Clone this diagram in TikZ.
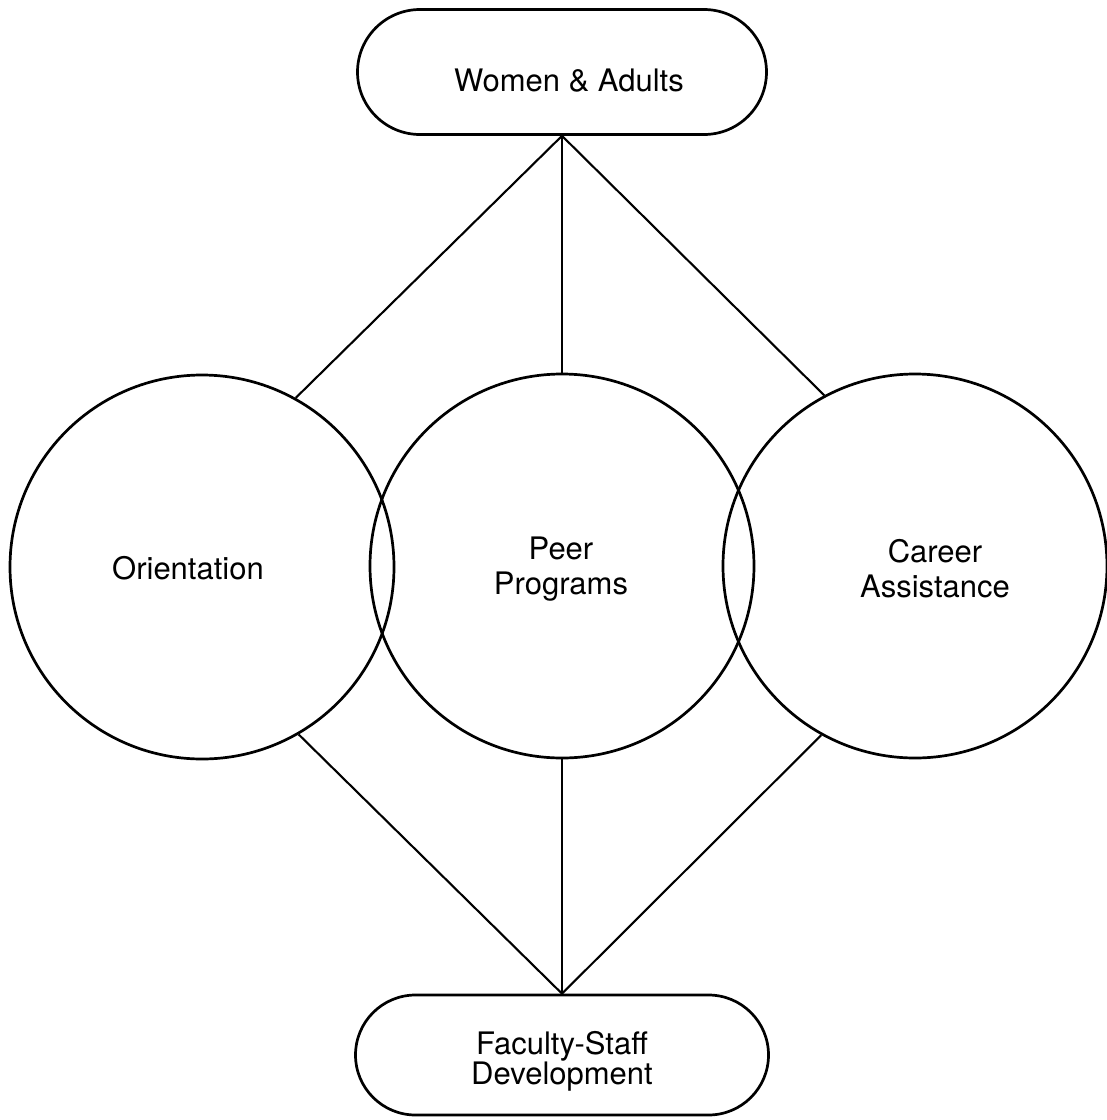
\documentclass[tikz,border=0pt]{standalone}
\usepackage{fontspec}
\setmainfont{TeX Gyre Heros}
\begin{document}
\begin{tikzpicture}[x=1pt,y=-1pt,
  txt/.style={align=center, inner sep=0pt, font=\fontsize{31}{35}\selectfont},
  ring/.style={draw, circle, line width=2.7pt, minimum size=384pt, inner sep=0pt},
  pill/.style={draw, rectangle, line width=2.7pt, inner sep=0pt},
  link/.style={line width=2.1pt}
]
\useasboundingbox (0,0) rectangle (1107,1120);

% end boxes
\node[pill, minimum width=409pt, minimum height=125pt, rounded corners=62.5pt] (wa) at (562,72) {};
\node[txt] (watxt) at (569,81) {Women \& Adults};

\node[pill, minimum width=413pt, minimum height=120pt, rounded corners=60pt] (fs) at (562,1055) {};
\node[txt, font=\fontsize{31}{29}\selectfont] (fstxt) at (562,1061) {Faculty-Staff\\Development};

% the three program areas
\node[ring] (orient) at (202,567) {};
\node[ring] (peer) at (562,566) {};
\node[ring] (career) at (915,566) {};

\node[txt] (orienttxt) at (188,568) {Orientation};
\node[txt] (peertxt) at (561,569) {Peer\\Programs};
\node[txt] (careertxt) at (935,569) {Career\\Assistance};

% connectors
\draw[link] (wa.south) -- (orient.61);
\draw[link] (wa.south) -- (peer.north);
\draw[link] (wa.south) -- (career.118);
\draw[link] (fs.north) -- (orient.-60);
\draw[link] (fs.north) -- (peer.south);
\draw[link] (fs.north) -- (career.-119);
\end{tikzpicture}
\end{document}
